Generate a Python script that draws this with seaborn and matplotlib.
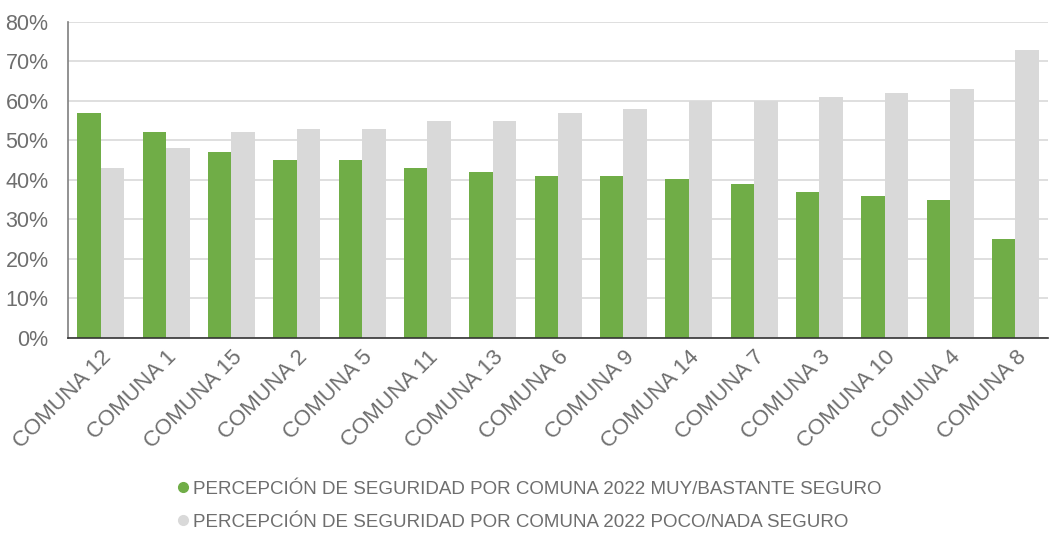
import pandas as pd
import matplotlib
matplotlib.use("Agg")
import matplotlib.pyplot as plt
import seaborn as sns
from matplotlib.lines import Line2D
from matplotlib.ticker import FuncFormatter

# Data
comunas = ["COMUNA 12", "COMUNA 1", "COMUNA 15", "COMUNA 2", "COMUNA 5",
           "COMUNA 11", "COMUNA 13", "COMUNA 6", "COMUNA 9", "COMUNA 14",
           "COMUNA 7", "COMUNA 3", "COMUNA 10", "COMUNA 4", "COMUNA 8"]
seguro = [57, 52, 47, 45, 45, 43, 42, 41, 41, 40.2, 39, 37, 36, 35, 25]
inseguro = [43, 48, 52, 53, 53, 55, 55, 57, 58, 60, 60, 61, 62, 63, 73]
serie_labels = ["PERCEPCIÓN DE SEGURIDAD POR COMUNA 2022 MUY/BASTANTE SEGURO",
                "PERCEPCIÓN DE SEGURIDAD POR COMUNA 2022 POCO/NADA SEGURO"]
y_ticks = [0, 10, 20, 30, 40, 50, 60, 70, 80]

GREEN = "#70AD47"
GRAY = "#D9D9D9"
TEXT = "#6E6E6E"

df = pd.DataFrame({
    "comuna": comunas * 2,
    "valor": seguro + inseguro,
    "serie": [serie_labels[0]] * len(comunas) + [serie_labels[1]] * len(comunas),
})

sns.set_theme(style="white")
plt.rcParams["font.family"] = ["Liberation Sans", "DejaVu Sans"]

fig = plt.figure(figsize=(10.55, 5.33), dpi=100)
ax = fig.add_axes([0.0645, 0.366, 0.929, 0.593])

sns.barplot(data=df, x="comuna", y="valor", hue="serie", order=comunas,
            hue_order=serie_labels, palette=[GREEN, GRAY], width=0.72,
            saturation=1, dodge=True, ax=ax, legend=False, zorder=3,
            linewidth=0, edgecolor="none")

ax.set_ylim(0, 80)
ax.set_yticks(y_ticks)
ax.yaxis.set_major_formatter(FuncFormatter(lambda v, _: f"{v:.0f}%"))
ax.grid(axis="y", color="#D9D9D9", linewidth=1.2, zorder=0)
ax.set_axisbelow(True)
ax.set_xlabel("")
ax.set_ylabel("")
ax.set_xlim(-0.5, len(comunas) - 0.5)

for s in ["top", "right"]:
    ax.spines[s].set_visible(False)
ax.spines["left"].set_color("#7F7F7F")
ax.spines["left"].set_linewidth(1.2)
ax.spines["bottom"].set_color("#333333")
ax.spines["bottom"].set_linewidth(1.2)
ax.spines["bottom"].set_zorder(5)

ax.tick_params(axis="y", colors=TEXT, labelsize=15.5, length=0, pad=14)
ax.tick_params(axis="x", colors=TEXT, labelsize=16, length=0, pad=6)
for lbl in ax.get_xticklabels():
    lbl.set_rotation(45)
    lbl.set_ha("right")
    lbl.set_rotation_mode("anchor")

handles = [Line2D([], [], marker="o", linestyle="", markersize=7,
                  markerfacecolor=c, markeredgecolor=c) for c in [GREEN, GRAY]]
fig.legend(handles, serie_labels, loc="center", bbox_to_anchor=(0.5, 0.051),
           frameon=False, fontsize=13.5, labelcolor=TEXT, handletextpad=0.0,
           labelspacing=0.85, handlelength=1.0)

fig.savefig("out.png", dpi=100)
